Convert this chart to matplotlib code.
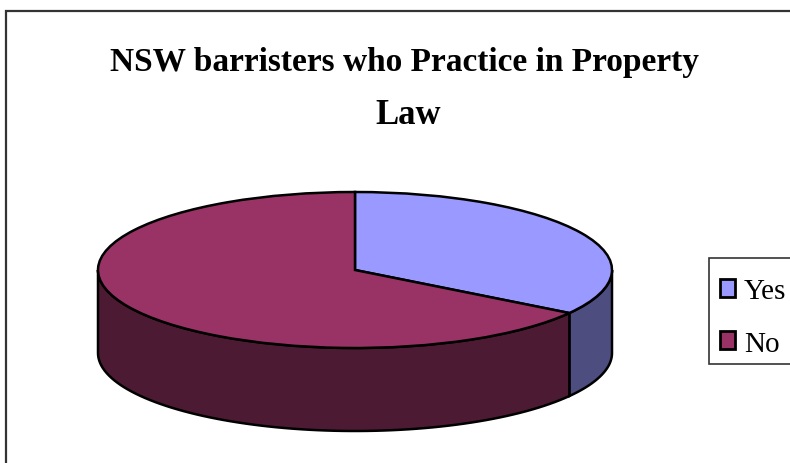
import numpy as np
import matplotlib
matplotlib.use('Agg')
import matplotlib.pyplot as plt
from matplotlib.patches import Polygon, Rectangle
from matplotlib.transforms import Affine2D

labels = ['Yes', 'No']
values = [34.3, 65.7]
top_colors = ['#9999FF', '#993366']
side_colors = ['#4D4D80', '#4D1A33']
title_lines = ['NSW barristers who Practice in Property', 'Law']

plt.rcParams['font.family'] = ['Liberation Serif', 'DejaVu Serif']

# axes in pixels, origin on the pie centre
cx, cy = 355, 271
rx, ry, depth = 257, 78, 83
W, H = 790, 464

fig = plt.figure(figsize=(W / 100, H / 100), dpi=100)
ax = fig.add_axes([0, 0, 1, 1])
ax.set_xlim(-cx, W - cx)
ax.set_ylim(cy - H, cy)
ax.axis('off')

# outer chart border, only left and top are in frame
ax.plot([5.5 - cx, 5.5 - cx, W - cx], [cy - H, cy - 12, cy - 12],
        color='#333333', lw=1.6, solid_joinstyle='miter')

# side walls first, from the wedge angles
fracs = np.array(values) / sum(values)
ends = 90 - 360 * np.cumsum(fracs)
starts = np.append(90, ends[:-1])
for a0, a1, col in zip(starts, ends, side_colors):
    # only the front half of the rim has a visible wall
    lo, hi = max(a1, -180), min(a0, 0)
    t = np.radians(np.linspace(hi, lo, 80))
    if hi <= lo:
        continue
    x = rx * np.cos(t)
    y = ry * np.sin(t)
    pts = np.vstack([np.column_stack([x, y]),
                     np.column_stack([x[::-1], y[::-1] - depth])])
    ax.add_patch(Polygon(pts, closed=True, facecolor=col, edgecolor='black', lw=1.8, zorder=2))

# top face
wedges, _ = ax.pie(values, colors=top_colors, startangle=90, counterclock=False,
                   radius=rx, frame=False,
                   wedgeprops={'edgecolor': 'black', 'linewidth': 1.8})
for w in wedges:
    w.set_transform(Affine2D().scale(1, ry / rx) + ax.transData)
    w.set_zorder(3)
ax.set_xlim(-cx, W - cx)
ax.set_ylim(cy - H, cy)
ax.set_aspect('auto')

# title
ax.text(404 - cx, cy - 71, title_lines[0], ha='center', va='baseline', fontsize=24,
        fontweight='bold', color='black')
ax.text(408 - cx, cy - 124, title_lines[1], ha='center', va='baseline', fontsize=25,
        fontweight='bold', color='black')

# legend
ax.add_patch(Rectangle((709 - cx, cy - 365), 90, 106, facecolor='white', edgecolor='#333333',
                       lw=1.2, zorder=4))
for lab, col, yy, base in zip(labels, top_colors, [288.5, 340.5], [299, 352]):
    ax.add_patch(Rectangle((720 - cx, cy - yy - 9), 15, 18, facecolor=col, edgecolor='black',
                           lw=2, zorder=5))
    ax.text(744 - cx, cy - base, lab, ha='left', va='baseline', fontsize=21, color='black', zorder=5)

fig.savefig('out.png', dpi=100)
